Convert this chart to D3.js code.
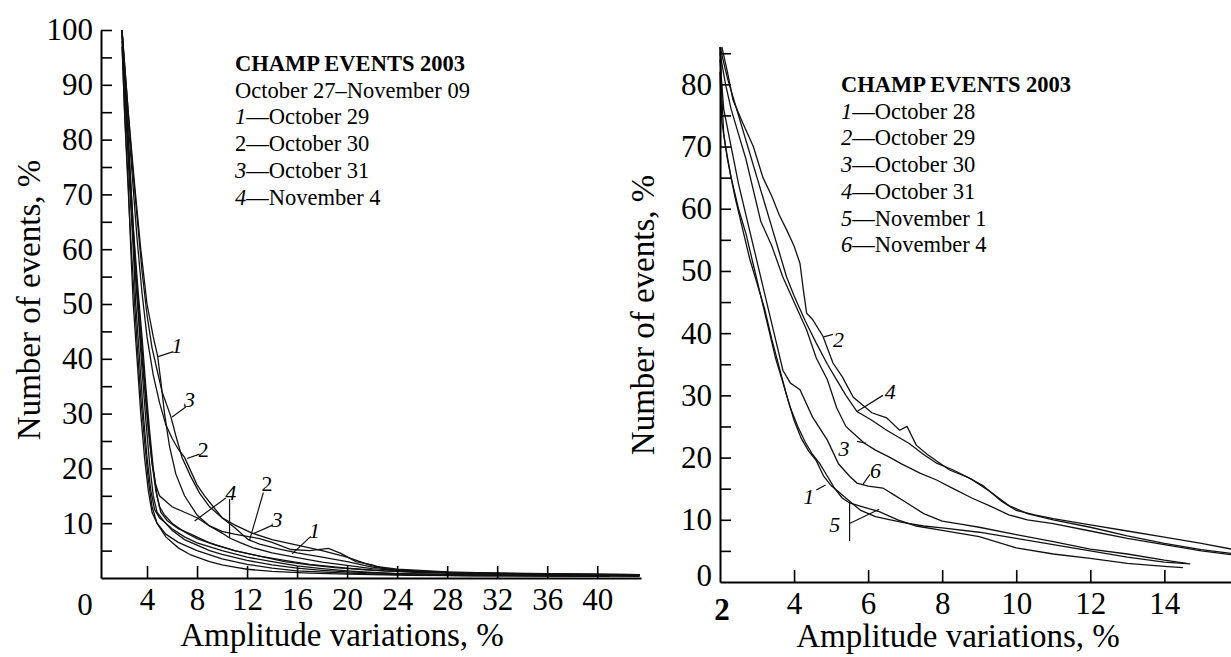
<!DOCTYPE html>
<html lang="en">
<head>
  <meta charset="UTF-8">
  <title>CHAMP events 2003</title>
  <script src="https://cdnjs.cloudflare.com/ajax/libs/d3/7.8.5/d3.min.js"></script>
  <style>
    body { margin: 0; background: #fff; }
    svg { display: block; }
    text { font-family: "Liberation Serif", "DejaVu Serif", serif; fill: #000; }
    .tick line, .domain { stroke: #000; }
  </style>
</head>
<body>
<script>
  // ---- left panel: Oct 27 - Nov 09, cumulative share of events vs amplitude ----
  // unlabeled days (the dense bundle)
  const leftDayA = [[2,100],[2.3,85],[2.6,72],[2.9,60],[3.1,50],[3.4,40],[3.7,30],[4.0,22],[4.3,16],[4.6,12.5],[5.0,11],[6,9],[7,7.5],[8,6.4],[10,5],[12,3.8],[14,3],[16,2.2],[18,1.7],[20,1.3],[22,1.0],[24,0.8],[28,0.6],[32,0.5],[36,0.4],[40,0.35],[43.4,0.3]];
  const leftDayB = [[2,99],[2.4,82],[2.7,70],[3.0,58],[3.3,48],[3.6,38],[3.9,29],[4.2,21],[4.5,15],[4.8,12],[5.3,10.5],[6,8.7],[7,7],[8,6],[9,5],[10,4.3],[12,3.2],[14,2.4],[16,1.8],[18,1.4],[20,1.1],[24,0.8],[30,0.6],[36,0.5],[43,0.4]];
  const leftDayC = [[2,98],[2.2,85],[2.5,72],[2.7,60],[2.9,50],[3.2,40],[3.5,30],[3.8,22],[4.1,16],[4.4,12],[4.8,10],[5.5,8],[6.5,6.5],[8,5],[10,3.5],[12,2.5],[14,1.8],[16,1.3],[20,0.9],[24,0.6],[30,0.4],[41,0.3]];
  const leftDayD = [[2,100],[2.5,80],[2.9,64],[3.3,52],[3.6,44],[3.9,35],[4.2,27],[4.5,20],[4.8,15],[5.1,12],[5.6,10.5],[6.5,9],[7.5,8],[9,6.4],[11,5],[13,4],[15,3.2],[17,2.5],[20,1.8],[23,1.3],[26,1.0],[30,0.8],[35,0.6],[43.2,0.5]];
  const leftDayE = [[2,97],[2.3,80],[2.6,66],[2.9,54],[3.2,43],[3.5,33],[3.8,25],[4.1,18],[4.4,13],[4.8,10],[5.5,7.5],[6.5,5.5],[7.5,4.2],[9,3],[10,2.4],[11,2],[12,1.6],[14,1.2],[17,0.9],[20,0.7],[25,0.5],[32,0.4],[41,0.3]];
  const leftDayF = [[2,100],[2.4,84],[2.8,68],[3.1,56],[3.5,45],[3.8,36],[4.1,28],[4.4,21],[4.7,16],[5.0,13],[5.4,11.5],[6,10],[7,8.4],[8,7.2],[9.5,6],[11,5],[13,4],[15,3],[17,2.4],[19,1.9],[22,1.4],[25,1.1],[30,0.9],[36,0.7],[43.4,0.6]];
  // labelled days
  const leftOct29 = [[2,100],[2.5,85],[3.0,72],[3.5,60],[4.0,50],[4.5,44],[4.85,40.5],[5.1,36],[5.4,30],[5.8,24],[6.3,19],[7,15],[8,11.5],[9,9.5],[10,8.5],[11,8],[12,7.6],[13,7.2],[14,6.5],[15.5,5.2],[17,5],[18.5,5.4],[19.5,4.5],[20.7,3],[22,2.4],[23,1.6],[25,1.2],[28,1.0],[32,0.8],[36,0.7],[40,0.6],[43.4,0.5]];
  const leftOct30 = [[2,100],[2.4,86],[2.8,74],[3.2,62],[3.6,52],[4.0,44],[4.5,37],[5.0,32],[5.5,28],[6.0,25.5],[6.5,23.5],[7.0,22],[7.5,19.5],[8,17],[8.6,15],[9.3,13],[10,11],[11,9.2],[12.1,7],[13,6.2],[14.5,5.3],[16,4.6],[18,3.8],[20,3.0],[22,2.0],[24,1.5],[28,1.0],[34,0.8],[43.4,0.6]];
  const leftOct31 = [[2,100],[2.4,88],[2.8,76],[3.2,66],[3.6,56],[4.0,48],[4.4,42],[4.8,38],[5.2,34],[5.9,29.5],[6.3,26],[6.8,22],[7.5,18.5],[8.2,15.5],[9,13],[10,11],[11,9.7],[12.4,8.2],[14,7],[16,6],[18,5.0],[20,3.8],[22,2.2],[24,1.6],[28,1.1],[32,0.9],[36,0.8],[43.4,0.6]];
  const leftNov4 = [[2,100],[2.3,86],[2.6,74],[2.9,62],[3.2,52],[3.5,43],[3.8,35],[4.1,27],[4.4,21],[4.7,17],[5.0,15],[5.5,14],[6,13],[7,12],[8,11],[9,9.5],[10,8.2],[10.6,7.3],[11.5,6.4],[12.5,5.5],[14,4.6],[16,3.7],[18,2.9],[20,2.3],[22,1.7],[25,1.2],[30,0.9],[36,0.7],[43.4,0.5]];

  const leftXTicks = [4, 8, 12, 16, 20, 24, 28, 32, 36, 40];
  const leftYTicks = [5, 10, 15, 20, 25, 30, 35, 40, 45, 50, 55, 60, 65, 70, 75, 80, 85, 90, 95, 100];
  const leftLegend = [
    { num: "", text: "CHAMP EVENTS 2003", bold: true },
    { num: "", text: "October 27\u2013November 09" },
    { num: "1", text: "\u2014October 29", italic: true },
    { num: "2", text: "\u2014October 30", italic: false },
    { num: "3", text: "\u2014October 31", italic: true },
    { num: "4", text: "\u2014November 4", italic: true }
  ];
  // curve labels: text spot and leader segments, in data units
  const leftNotes = [
    { t: "1", x: 6.4, y: 42.5, it: true, lines: [[6.1, 41.3, 4.9, 40.4]] },
    { t: "3", x: 7.4, y: 32.5, it: true, lines: [[7.1, 31.2, 6.0, 29.4]] },
    { t: "2", x: 8.5, y: 23.5, it: false, lines: [[8.2, 22.6, 7.2, 21.8]] },
    { t: "4", x: 10.7, y: 15.6, it: true, lines: [[10.3, 14.6, 7.8, 10.4], [10.6, 14.4, 10.6, 7.3]] },
    { t: "2", x: 13.6, y: 17.2, it: false, lines: [[13.3, 15.6, 12.2, 6.9]] },
    { t: "3", x: 14.4, y: 10.6, it: true, lines: [[14.0, 9.6, 12.5, 8.1]] },
    { t: "1", x: 17.4, y: 8.6, it: true, lines: [[17.1, 7.6, 15.6, 4.4]] }
  ];

  // ---- right panel ----
  const rightOct28 = [[2.0,86],[2.05,78],[2.1,72],[2.2,68],[2.4,62],[2.6,57],[2.8,52],[3.0,48],[3.2,44],[3.4,39],[3.6,34.5],[3.8,30],[4.0,26],[4.2,23],[4.4,21],[4.6,19.5],[4.8,17],[5.0,15.5],[5.2,14.5],[5.5,13],[5.8,11.5],[6.2,10.5],[6.6,10],[7.0,9.5],[7.5,9],[8,8.7],[9,8],[10,7],[11,6],[12,5],[13,4],[14,3.2],[14.7,2.9]];
  const rightOct29 = [[2.05,86],[2.2,82],[2.35,77.5],[2.6,74],[2.9,70],[3.16,65],[3.4,62],[3.6,59],[3.8,56.6],[4.0,54],[4.16,51.2],[4.25,47],[4.34,43.2],[4.5,42.2],[4.78,39.5],[5.05,35.2],[5.3,33],[5.6,29.7],[6.1,27.2],[6.5,26.4],[6.85,24.4],[7.05,25],[7.3,22],[7.6,20.5],[8.2,18],[8.7,16.8],[9.1,15.5],[9.6,13],[10,11.5],[10.5,10.8],[11,10.2],[12,9.2],[13,8.2],[14,7.2],[15,6.2],[15.8,5.3]];
  const rightOct30 = [[2.0,85],[2.15,80],[2.3,76],[2.5,72],[2.7,68],[2.9,63],[3.1,58],[3.4,54],[3.7,49],[4.0,45],[4.34,40.5],[4.6,36],[4.9,32.5],[5.15,28],[5.4,25],[5.6,23.9],[5.9,22.3],[6.2,21.2],[6.6,20],[6.9,19],[7.4,17.5],[7.85,16.4],[8.3,15],[8.8,13.5],[9.3,12.2],[9.8,10.8],[10.3,10],[11,9.4],[12,8.2],[13,7],[14,6],[15,5],[15.8,4.4]];
  const rightOct31 = [[2.0,86],[2.2,81],[2.4,77],[2.6,73],[2.8,69],[3.0,65],[3.2,61],[3.4,57],[3.6,53],[3.8,49],[4.0,46],[4.3,42],[4.6,38.4],[4.9,35],[5.15,32.5],[5.4,30],[5.7,27.4],[6.1,26],[6.5,24.4],[7.1,22.3],[7.5,20.5],[7.85,19.1],[8.3,18],[8.8,16.5],[9.3,14.5],[9.8,12.3],[10.3,11],[11,10],[12,8.8],[13,7.4],[14,6.2],[15,5.2],[15.8,4.6]];
  const rightNov1 = [[2.0,82],[2.05,74],[2.15,70],[2.3,65],[2.5,60],[2.7,56],[2.9,51],[3.1,46],[3.3,41],[3.5,36],[3.7,32],[3.9,28],[4.1,25],[4.3,22.5],[4.5,20.5],[4.7,19],[4.9,17],[5.1,15],[5.3,13.5],[5.5,12.7],[5.9,12],[6.3,11.3],[6.8,10],[7.3,9],[8,8.3],[9,7.3],[10,5.5],[11,4.5],[12,3.8],[13,3],[14,2.5],[14.5,2.3]];
  const rightNov4 = [[2.0,84],[2.1,76],[2.3,70],[2.5,64],[2.7,59],[2.9,54],[3.1,49],[3.3,44],[3.5,39],[3.7,34],[3.9,32],[4.16,30.9],[4.5,26.5],[4.9,22.8],[5.2,19],[5.5,17],[5.7,15.9],[6.0,15.4],[6.4,15.1],[6.7,14],[7.05,12.7],[7.5,11],[8,9.8],[8.5,9.3],[9,8.8],[10,7.6],[11,6.5],[12,5.3],[13,4.5],[14,3.5],[14.6,3.0]];

  const rightXTicks = [4, 6, 8, 10, 12, 14];
  const rightYTicks = [5, 10, 15, 20, 25, 30, 35, 40, 45, 50, 55, 60, 65, 70, 75, 80, 85];
  const rightLegend = [
    { num: "", text: "CHAMP EVENTS 2003", bold: true },
    { num: "1", text: "\u2014October 28", italic: true },
    { num: "2", text: "\u2014October 29", italic: true },
    { num: "3", text: "\u2014October 30", italic: true },
    { num: "4", text: "\u2014October 31", italic: true },
    { num: "5", text: "\u2014November 1", italic: true },
    { num: "6", text: "\u2014November 4", italic: true }
  ];
  const rightNotes = [
    { t: "2", x: 5.2, y: 39.0, it: true, lines: [[5.05, 39.8, 4.8, 39.4]] },
    { t: "4", x: 6.6, y: 30.6, it: true, lines: [[6.4, 30.0, 5.7, 27.4]] },
    { t: "3", x: 5.35, y: 21.4, it: true, lines: [[5.7, 22.6, 5.95, 22.3]] },
    { t: "6", x: 6.2, y: 18.0, it: true, lines: [[6.05, 17.3, 5.85, 15.6]] },
    { t: "1", x: 4.4, y: 13.8, it: true, lines: [[4.6, 14.8, 4.85, 15.6]] },
    { t: "5", x: 5.1, y: 9.2, it: true, lines: [[5.5, 12.8, 5.5, 6.6], [5.5, 9.4, 6.3, 11.7]] }
  ];

  const width = 1231, height = 657;
  const svg = d3.select('body').append('svg')
    .attr('width', width)
    .attr('height', height);
  svg.append('rect').attr('width', width).attr('height', height).attr('fill', '#fff');

  const line = d3.line();

  function drawPanel(opt) {
    const x = d3.scaleLinear().domain(opt.xDomain).range(opt.xRange);
    const y = d3.scaleLinear().domain(opt.yDomain).range(opt.yRange);
    const g = svg.append('g');

    // curves
    g.selectAll('path.curve')
      .data(opt.series)
      .join('path')
      .attr('class', 'curve')
      .attr('d', d => line(d.map(p => [x(p[0]), y(p[1])])))
      .attr('fill', 'none')
      .attr('stroke', '#111')
      .attr('stroke-width', 1.3);

    // y axis, ticks pointing inside
    const yAxis = g.append('g')
      .attr('transform', `translate(${opt.xRange[0]},0)`)
      .call(d3.axisLeft(y).tickValues(opt.yTicks).tickSizeInner(-11).tickSizeOuter(0).tickPadding(8)
        .tickFormat(d => (d % 10 === 0 ? d : '')));
    yAxis.attr('font-family', null);
    yAxis.selectAll('text').style('font-size', '31px');
    yAxis.select('.domain').attr('stroke-width', 2);
    yAxis.selectAll('.tick line').attr('stroke-width', 1.6);

    // x axis, ticks pointing inside
    const xAxis = g.append('g')
      .attr('transform', `translate(0,${opt.yRange[0]})`)
      .call(d3.axisBottom(x).tickValues(opt.xTicks).tickSizeInner(-12).tickSizeOuter(0).tickPadding(10));
    xAxis.attr('font-family', null);
    xAxis.selectAll('text').style('font-size', '31px');
    xAxis.select('.domain').attr('stroke-width', 2);
    xAxis.selectAll('.tick line').attr('stroke-width', 1.6);

    // corner labels
    opt.corner.forEach(c => {
      const p = c.at(x, y);
      g.append('text')
        .attr('x', p[0]).attr('y', p[1])
        .attr('text-anchor', c.anchor)
        .style('font-size', '31px')
        .style('font-weight', c.bold ? 'bold' : null)
        .text(c.t);
    });

    // axis titles
    g.append('text')
      .attr('transform', `translate(${opt.yTitleX},${opt.yTitleY}) rotate(-90)`)
      .attr('text-anchor', 'middle')
      .attr('dominant-baseline', 'central')
      .style('font-size', '33px')
      .text('Number of events, %');
    g.append('text')
      .attr('x', opt.xTitleX)
      .attr('y', opt.xTitleY)
      .attr('text-anchor', 'middle')
      .style('font-size', '33px')
      .text('Amplitude variations, %');

    // legend
    const lg = g.append('text').style('font-size', '22.5px');
    opt.legend.forEach((d, i) => {
      const t = lg.append('tspan')
        .attr('x', opt.legendX)
        .attr('y', opt.legendY + i * 26.7);
      if (d.num) t.append('tspan').style('font-style', d.italic ? 'italic' : 'normal').text(d.num);
      t.append('tspan').style('font-weight', d.bold ? 'bold' : 'normal').text(d.text);
    });

    // curve labels with leader lines
    opt.notes.forEach(n => {
      n.lines.forEach(s => {
        g.append('line')
          .attr('x1', x(s[0])).attr('y1', y(s[1]))
          .attr('x2', x(s[2])).attr('y2', y(s[3]))
          .attr('stroke', '#111').attr('stroke-width', 1.2);
      });
      g.append('text')
        .attr('x', x(n.x)).attr('y', y(n.y))
        .attr('text-anchor', 'middle')
        .attr('dominant-baseline', 'central')
        .style('font-size', '22px')
        .style('font-style', n.it ? 'italic' : 'normal')
        .text(n.t);
    });
  }

  drawPanel({
    series: [leftDayA, leftDayB, leftDayC, leftDayD, leftDayE, leftDayF, leftOct29, leftOct30, leftOct31, leftNov4],
    xDomain: [0.32, 43.5], xRange: [101, 641],
    yDomain: [0, 100], yRange: [578, 30],
    xTicks: leftXTicks, yTicks: leftYTicks,
    corner: [{ t: '0', anchor: 'middle', at: (x, y) => [x(0) - 12, y(0) + 37] }],
    yTitleX: 29, yTitleY: 300,
    xTitleX: 342, xTitleY: 646,
    legend: leftLegend, legendX: 235, legendY: 71,
    notes: leftNotes
  });

  drawPanel({
    series: [rightOct28, rightOct29, rightOct30, rightOct31, rightNov1, rightNov4],
    xDomain: [2, 15.8], xRange: [720, 1231],
    yDomain: [0, 86], yRange: [582, 47],
    xTicks: rightXTicks, yTicks: rightYTicks,
    corner: [
      { t: '0', anchor: 'end', at: (x, y) => [x(2) - 8, y(0) + 4] },
      { t: '2', anchor: 'middle', at: (x, y) => [x(2) + 2, y(0) + 38], bold: true }
    ],
    yTitleX: 643, yTitleY: 315,
    xTitleX: 958, xTitleY: 647,
    legend: rightLegend, legendX: 841, legendY: 92,
    notes: rightNotes
  });
</script>
</body>
</html>
